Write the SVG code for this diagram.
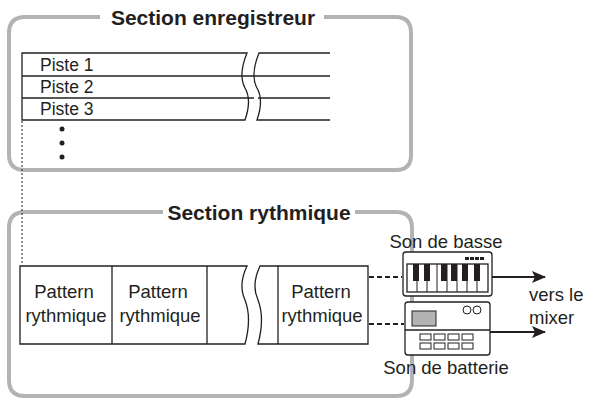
<svg xmlns="http://www.w3.org/2000/svg" width="610" height="401" viewBox="0 0 610 401">
<defs>
<style>
.frame{fill:none;stroke:#b3b3b3;stroke-width:4}
.title{font-family:"Liberation Sans",Arial,sans-serif;font-weight:bold;font-size:21px;fill:#231f20;text-anchor:middle}
.t{font-family:"Liberation Sans",Arial,sans-serif;font-size:17.5px;fill:#231f20}
.tm{font-family:"Liberation Sans",Arial,sans-serif;font-size:18.5px;fill:#231f20;text-anchor:middle}
.ln{fill:none;stroke:#231f20;stroke-width:1.3}
.box{fill:#fff;stroke:#231f20;stroke-width:1.3}
</style>
<marker id="ah" markerWidth="14" markerHeight="12" refX="13" refY="6" orient="auto" markerUnits="userSpaceOnUse"><path d="M0,0 L14,6 L0,12 L3,6z" fill="#231f20"/></marker>
</defs>
<rect width="610" height="401" fill="#fff"/>
<g id="section-enregistreur">
<path class="frame" d="M100,17 H25 Q9,17 9,33 V155 Q9,170 25,170 H396 Q411,170 411,155 V33 Q411,17 396,17 H324"/>
<text class="title" x="213" y="25">Section enregistreur</text>
<path class="ln" d="M22,53 H247 Q238,75 245,88 Q252,100 245,120 H22 Z"/>
<line class="ln" x1="22" y1="76" x2="254" y2="76"/>
<line class="ln" x1="22" y1="98" x2="254" y2="98"/>
<path class="ln" d="M330,53 H259 Q250,75 257,88 Q264,100 257,120 H330"/>
<line class="ln" x1="254" y1="76" x2="330" y2="76"/>
<line class="ln" x1="258" y1="98" x2="330" y2="98"/>
<text class="t" x="40" y="71">Piste 1</text>
<text class="t" x="40" y="93">Piste 2</text>
<text class="t" x="40" y="115">Piste 3</text>
<circle cx="62" cy="129" r="2.5" fill="#231f20"/>
<circle cx="62" cy="143" r="2.5" fill="#231f20"/>
<circle cx="62" cy="157" r="2.5" fill="#231f20"/>
</g>
<g id="section-rythmique">
<path class="frame" d="M163,212 H25 Q9,212 9,228 V380 Q9,396 25,396 H396 Q412,396 412,380 V228 Q412,212 396,212 H355"/>
<text class="title" x="259" y="220">Section rythmique</text>
<path class="ln" d="M20,266 H247 Q238,285 245,300 Q252,318 245,344 H20 Z"/>
<line class="ln" x1="112" y1="266" x2="112" y2="344"/>
<line class="ln" x1="207" y1="266" x2="207" y2="344"/>
<path class="ln" d="M368,266 H260 Q251,285 258,300 Q265,318 258,344 H368 Z"/>
<line class="ln" x1="278" y1="266" x2="278" y2="344"/>
<text class="tm" x="64" y="298">Pattern</text><text class="tm" x="66" y="322">rythmique</text>
<text class="tm" x="158" y="298">Pattern</text><text class="tm" x="160" y="322">rythmique</text>
<text class="tm" x="321" y="298">Pattern</text><text class="tm" x="322" y="322">rythmique</text>
</g>
<g id="son-de-basse">
<text class="tm" x="446" y="248">Son de basse</text>
<rect class="box" x="403" y="252" width="89" height="44" rx="3"/>
<rect x="465" y="257" width="4" height="3" fill="#231f20"/><rect x="470" y="257" width="4" height="3" fill="#231f20"/><rect x="475" y="257" width="4" height="3" fill="#231f20"/><rect x="480" y="257" width="4" height="3" fill="#231f20"/>
<rect class="box" x="407" y="264" width="81" height="28"/>
<g stroke="#231f20" stroke-width="1">
<line x1="417" y1="264" x2="417" y2="292"/><line x1="427" y1="264" x2="427" y2="292"/><line x1="437" y1="264" x2="437" y2="292"/><line x1="447" y1="264" x2="447" y2="292"/><line x1="457" y1="264" x2="457" y2="292"/><line x1="467" y1="264" x2="467" y2="292"/><line x1="477" y1="264" x2="477" y2="292"/>
</g>
<g fill="#231f20">
<rect x="413" y="264" width="6" height="17"/><rect x="424" y="264" width="6" height="17"/><rect x="441" y="264" width="6" height="17"/><rect x="451" y="264" width="6" height="17"/><rect x="462" y="264" width="6" height="17"/><rect x="474" y="264" width="6" height="17"/>
</g>
</g>
<g id="son-de-batterie">
<rect class="box" x="405" y="302" width="85" height="53" rx="3"/>
<rect x="412" y="311" width="24" height="15" fill="#b3b3b3" stroke="#231f20" stroke-width="1"/>
<circle cx="467" cy="310" r="4" fill="none" stroke="#231f20"/><circle cx="477" cy="310" r="4" fill="none" stroke="#231f20"/>
<line class="ln" x1="405" y1="330" x2="490" y2="330"/>
<g fill="none" stroke="#231f20" stroke-width="1">
<rect x="420" y="334" width="11" height="6"/><rect x="434" y="334" width="11" height="6"/><rect x="448" y="334" width="11" height="6"/><rect x="462" y="334" width="11" height="6"/>
<rect x="420" y="343" width="11" height="6"/><rect x="434" y="343" width="11" height="6"/><rect x="448" y="343" width="11" height="6"/><rect x="462" y="343" width="11" height="6"/>
</g>
<text class="tm" x="446" y="374">Son de batterie</text>
</g>
<g id="mixer">
<text class="t" x="529" y="301" style="font-size:18.5px">vers le</text>
<text class="t" x="529" y="324" style="font-size:18.5px">mixer</text>
</g>
<g id="connectors">
<line x1="22" y1="121" x2="22" y2="264" stroke="#231f20" stroke-width="1" stroke-dasharray="2,2"/>
<line x1="369" y1="277" x2="402" y2="277" stroke="#231f20" stroke-width="2" stroke-dasharray="5,3"/>
<line x1="369" y1="324" x2="404" y2="324" stroke="#231f20" stroke-width="2" stroke-dasharray="5,3"/>
<line x1="492" y1="277" x2="545" y2="277" stroke="#231f20" stroke-width="2" marker-end="url(#ah)"/>
<line x1="490" y1="332" x2="545" y2="332" stroke="#231f20" stroke-width="2" marker-end="url(#ah)"/>
</g>
</svg>
